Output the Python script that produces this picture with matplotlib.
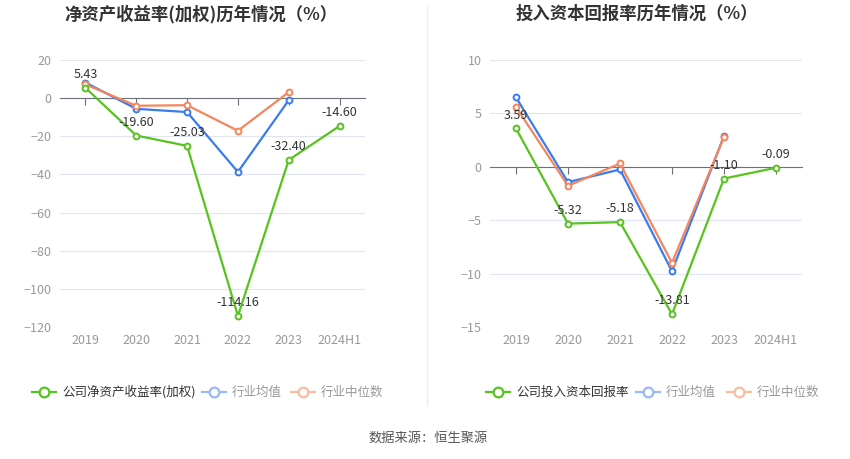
import matplotlib
matplotlib.use('Agg')
import matplotlib.pyplot as plt
from matplotlib.lines import Line2D

plt.rcParams['font.family'] = ['Noto Sans CJK SC', 'DejaVu Sans']

# 数据
anni = ['2019', '2020', '2021', '2022', '2023', '2024H1']

roe_azienda = [5.43, -19.60, -25.03, -114.16, -32.40, -14.60]
roe_media = [8.2, -5.6, -7.3, -38.7, -1.05, None]
roe_mediana = [7.2, -4.0, -3.7, -17.1, 3.15, None]

roic_azienda = [3.59, -5.32, -5.18, -13.81, -1.10, -0.09]
roic_media = [6.5, -1.44, -0.25, -9.78, 2.9, None]
roic_mediana = [5.6, -1.78, 0.31, -9.0, 2.8, None]

verde = '#56C31E'
blu = '#3B7BEF'
arancio = '#F5865B'
W, H = 850, 459

fig = plt.figure(figsize=(8.5, 4.59), dpi=100)


def px(x, y):
    return x / W, 1 - y / H


def grafico(rect, titolo, tx, azienda, media, mediana, yticks):
    ax = fig.add_axes(rect)
    xs = list(range(len(anni)))
    for serie, col, z in [(media, blu, 3), (mediana, arancio, 4), (azienda, verde, 5)]:
        pts = [(x, v) for x, v in zip(xs, serie) if v is not None]
        ax.plot([p[0] for p in pts], [p[1] for p in pts], color=col, lw=1.6,
                marker='o', ms=4.2, mfc='white', mew=1.4, zorder=z)
    for x, v in zip(xs, azienda):
        ax.annotate(f'{v:.2f}', (x, v), xytext=(0, 5), textcoords='offset points',
                    ha='center', va='bottom', fontsize=9, color='#333333', zorder=6)
    ax.set_xlim(-0.5, len(anni) - 0.5)
    ax.set_ylim(yticks[0], yticks[-1])
    ax.set_yticks(yticks)
    ax.grid(axis='y', color='#E0E6F1', lw=0.8)
    ax.set_axisbelow(True)
    for s in ['top', 'right', 'left']:
        ax.spines[s].set_visible(False)
    # asse a zero con tacche
    ax.spines['bottom'].set_position(('data', 0))
    ax.spines['bottom'].set_color('#6E7079')
    ax.spines['bottom'].set_zorder(2)
    ax.set_xticks(xs)
    ax.tick_params(axis='x', direction='out', length=5, color='#6E7079', labelbottom=False)
    ax.tick_params(axis='y', length=0, labelsize=9, labelcolor='#999999', pad=6)
    sec = ax.secondary_xaxis('bottom')
    sec.set_xticks(xs)
    sec.set_xticklabels(anni)
    sec.spines['bottom'].set_visible(False)
    sec.tick_params(length=0, labelsize=9, labelcolor='#999999', pad=5)
    fig.text(*px(tx, 14), titolo, ha='center', va='center', fontsize=12.5,
             fontweight='bold', color='#333333')
    return ax


def r(x0, y0, x1, y1):
    return [x0 / W, 1 - y1 / H, (x1 - x0) / W, (y1 - y0) / H]


grafico(r(60, 60, 365, 327), '净资产收益率(加权)历年情况（%）', 201,
        roe_azienda, roe_media, roe_mediana, list(range(-120, 21, 20)))
grafico(r(490, 60, 802, 327), '投入资本回报率历年情况（%）', 637,
        roic_azienda, roic_media, roic_mediana, list(range(-15, 11, 5)))


# legenda manuale
def voce(x, testo, col, col_testo):
    y = 392
    fig.add_artist(Line2D([px(x, y)[0], px(x + 24, y)[0]], [px(x, y)[1]] * 2,
                          transform=fig.transFigure, color=col, lw=1.6))
    fig.add_artist(Line2D([px(x + 12, y)[0]], [px(x, y)[1]], transform=fig.transFigure,
                          color=col, marker='o', ms=7, mfc='white', mew=1.6))
    fig.text(*px(x + 30, y), testo, ha='left', va='center', fontsize=9, color=col_testo)


voce(32, '公司净资产收益率(加权)', verde, '#333333')
voce(202, '行业均值', '#9AB8F6', '#999999')
voce(291, '行业中位数', '#F9BCA2', '#999999')
voce(486, '公司投入资本回报率', verde, '#333333')
voce(636, '行业均值', '#9AB8F6', '#999999')
voce(727, '行业中位数', '#F9BCA2', '#999999')

# separatore
fig.add_artist(Line2D([427 / W, 427 / W], [1 - 5 / H, 1 - 405 / H],
                      transform=fig.transFigure, color='#EEEEEE', lw=1))

fig.text(*px(428, 438), '数据来源：恒生聚源', ha='center', va='center',
         fontsize=9.5, color='#555555')

plt.savefig('out.png', dpi=100)
